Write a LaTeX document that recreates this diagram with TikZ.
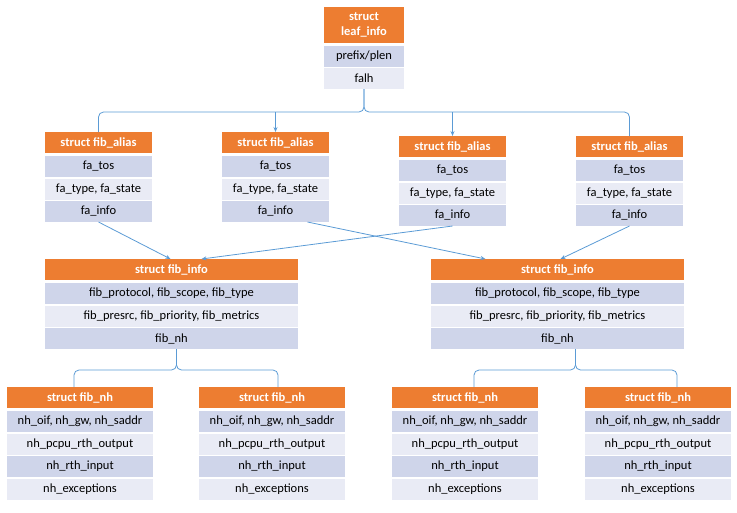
\documentclass[tikz,border=0pt]{standalone}
\usepackage{fontspec}
\setmainfont{Carlito}
\usetikzlibrary{positioning, arrows.meta}
\definecolor{hdrorange}{HTML}{ED7D31}
\definecolor{rowdark}{HTML}{CFD5EA}
\definecolor{rowlight}{HTML}{E9EBF5}
\definecolor{linkblue}{HTML}{5B9BD5}

\begin{document}
\begin{tikzpicture}[x=1pt, y=-1pt, node distance=1.5pt, >={Stealth[length=5pt,width=4pt]}]
    \tikzset{
        cell/.style={minimum height=21pt, inner sep=0pt, outer sep=0pt, font=\fontsize{12.5}{15}\selectfont},
        structhead/.style={cell, fill=hdrorange, text=white, font=\bfseries\fontsize{12.5}{15}\selectfont},
        rowdk/.style={cell, fill=rowdark},
        rowlt/.style={cell, fill=rowlight},
        link/.style={draw=linkblue, line width=0.8pt},
        brace/.style={link, rounded corners=5pt}
    }
    \useasboundingbox (0,0) rectangle (737,512);

    % leaf
    \node[structhead, minimum width=80pt, minimum height=36pt, align=center, anchor=north west] (leaf) at (324,7) {struct\\leaf\_info};
    \node[rowdk, minimum width=80pt, below=2.5pt of leaf] (leaf-plen) {prefix/plen};
    \node[rowlt, minimum width=80pt, below=of leaf-plen] (leaf-falh) {falh};

    % aliases
    \foreach \n/\x/\y in {fa1/45/132, fa2/222/132, fa3/399/136, fa4/576/136} {
        \node[structhead, minimum width=107pt, anchor=north west] (\n) at (\x,\y) {struct fib\_alias};
        \node[rowdk, minimum width=107pt, below=3pt of \n] (\n-tos) {fa\_tos};
        \node[rowlt, minimum width=107pt, below=of \n-tos] (\n-type) {fa\_type, fa\_state};
        \node[rowdk, minimum width=107pt, below=of \n-type] (\n-info) {fa\_info};
    }

    % infos
    \foreach \n/\x in {fi1/45, fi2/431} {
        \node[structhead, minimum width=253pt, anchor=north west] (\n) at (\x,259) {struct fib\_info};
        \node[rowdk, minimum width=253pt, below=3pt of \n] (\n-proto) {fib\_protocol, fib\_scope, fib\_type};
        \node[rowlt, minimum width=253pt, below=of \n-proto] (\n-prio) {fib\_presrc, fib\_priority, fib\_metrics};
        \node[rowdk, minimum width=253pt, below=of \n-prio] (\n-nh) {fib\_nh};
    }

    % next hops
    \foreach \n/\x in {nh1/7, nh2/199, nh3/392, nh4/585} {
        \node[structhead, minimum width=146pt, anchor=north west] (\n) at (\x,387) {struct fib\_nh};
        \node[rowdk, minimum width=146pt, below=3pt of \n] (\n-oif) {nh\_oif, nh\_gw, nh\_saddr};
        \node[rowlt, minimum width=146pt, below=of \n-oif] (\n-out) {nh\_pcpu\_rth\_output};
        \node[rowdk, minimum width=146pt, below=of \n-out] (\n-in) {nh\_rth\_input};
        \node[rowlt, minimum width=146pt, below=of \n-in] (\n-exc) {nh\_exceptions};
    }

    % leaf -> aliases
    \coordinate[below=23pt of leaf-falh] (leafbr);
    \draw[brace] (fa1.north) |- (leafbr) -- (leaf-falh.south);
    \draw[brace] (fa4.north) |- (leafbr) -- (leaf-falh.south);
    \draw[link,->] (fa2.north |- leafbr) -- (fa2.north);
    \draw[link,->] (fa3.north |- leafbr) -- (fa3.north);

    % aliases -> infos
    \draw[link,->] (fa1-info.south) -- ([xshift=-1pt]fi1.north);
    \draw[link,->] ([xshift=32pt]fa2-info.south) -- ([xshift=-72pt]fi2.north);
    \draw[link,->] (fa3-info.south) -- ([xshift=30pt]fi1.north);
    \draw[link,->] (fa4-info.south) -- ([xshift=3pt]fi2.north);

    % infos -> next hops
    \coordinate (fi1br) at ([xshift=5pt, yshift=-21pt]fi1-nh.south);
    \draw[brace] ([xshift=-6pt]nh1.north) |- (fi1br) -- (fi1br |- fi1-nh.south);
    \draw[brace] ([xshift=6pt]nh2.north) |- (fi1br) -- (fi1br |- fi1-nh.south);
    \coordinate (fi2br) at ([xshift=18pt, yshift=-21pt]fi2-nh.south);
    \draw[brace] ([xshift=9pt]nh3.north) |- (fi2br) -- (fi2br |- fi2-nh.south);
    \draw[brace] ([xshift=19pt]nh4.north) |- (fi2br) -- (fi2br |- fi2-nh.south);
\end{tikzpicture}
\end{document}
